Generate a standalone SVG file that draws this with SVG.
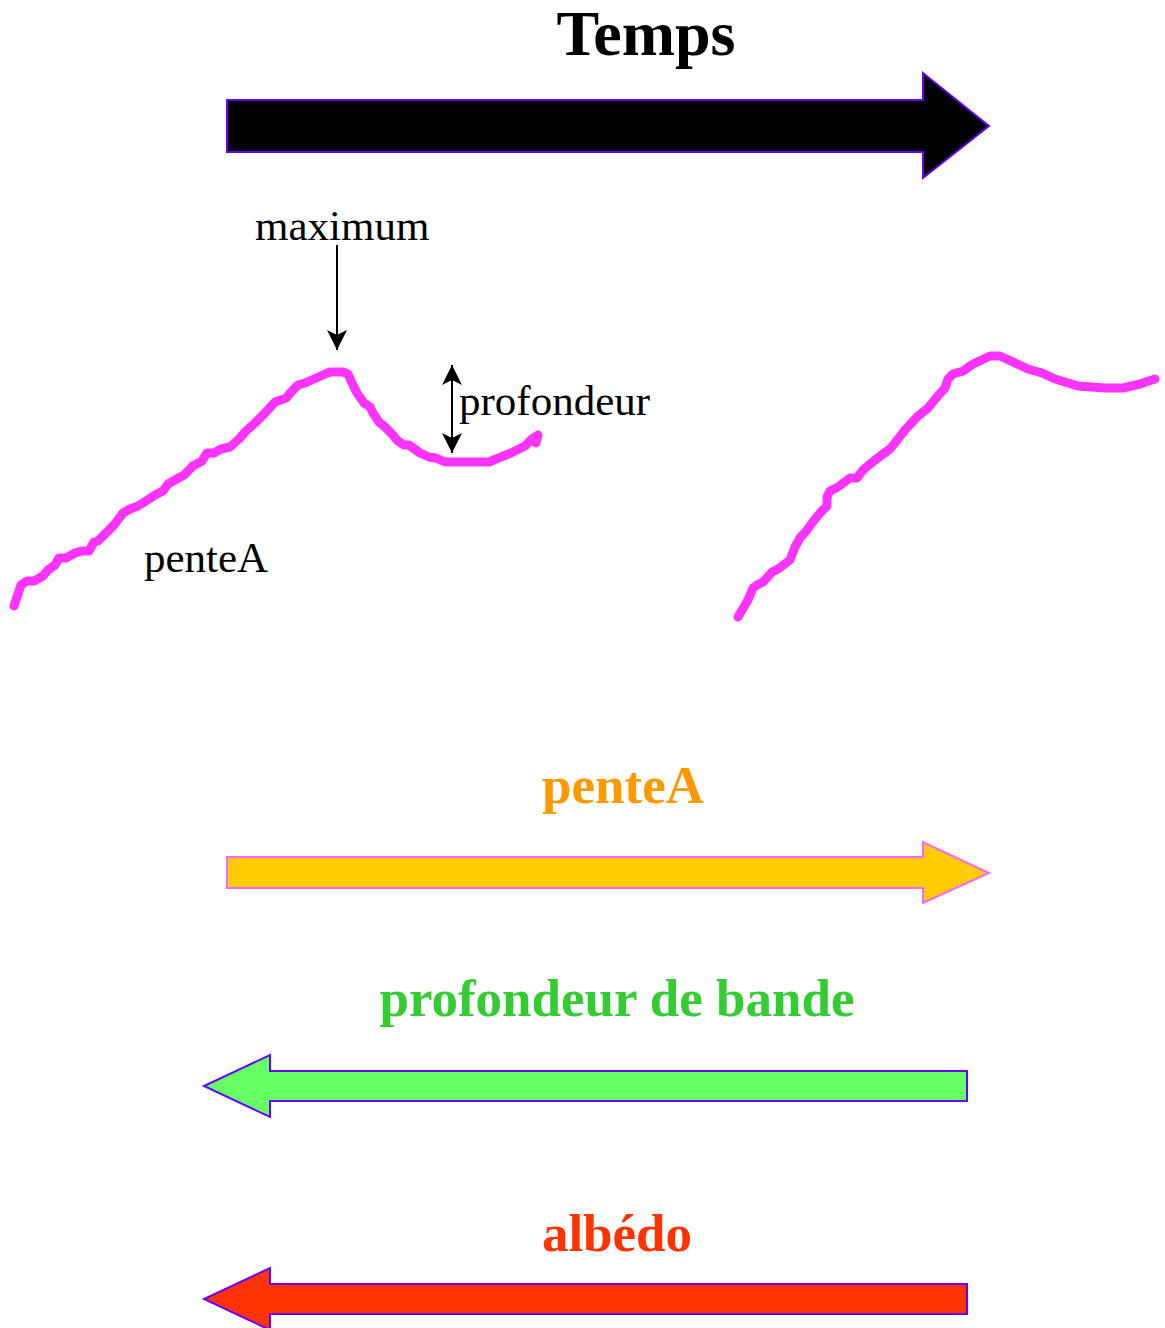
<svg xmlns="http://www.w3.org/2000/svg" width="1165" height="1328" viewBox="0 0 1165 1328">
<style>
.serif{font-family:"Liberation Serif","Times New Roman",serif}
.lbl{font-size:43px;fill:#000}
.big{font-weight:bold;font-size:53px;text-anchor:middle}
.curve{fill:none;stroke:#ff33ff;stroke-width:9;stroke-linecap:round;stroke-linejoin:round}
.ptr{stroke:#000;stroke-width:2;fill:none}
</style>
<defs>
<marker id="head" viewBox="0 0 20 20" refX="20" refY="10" markerWidth="20" markerHeight="20" markerUnits="userSpaceOnUse" orient="auto-start-reverse">
<path d="M0,0 L20,10 L0,20 L5,10 Z" fill="#000"/>
</marker>
</defs>
<rect width="1165" height="1328" fill="#fff"/>

<g id="temps">
<text class="serif" x="646" y="55" font-size="64" font-weight="bold" text-anchor="middle">Temps</text>
<polygon points="227,100 923,100 923,73 989,126 923,178 923,152 227,152" fill="#000" stroke="#6600ff" stroke-width="2"/>
</g>

<g id="curve1">
<polyline class="curve" points="14,606 21,585 27,581 34,581 43,576 48,570 55,565 59,558 66,558 75,553 82,551 89,551 94,542 98,541 107,532 114,525 123,513 130,509 138,506 146,501 155,495 163,491 168,484 175,480 184,475 193,466 202,461 207,453 214,453 221,449 230,447 239,439 246,431 255,423 266,412 275,402 286,398 293,390 298,385 305,383 314,379 323,375 330,372 343,372 348,374 352,383 357,393 364,403 370,407 373,413 379,422 385,427 391,433 398,441 404,445 409,445 420,453 429,457 436,458 445,462 489,462 496,459 511,453 525,446 532,439 538,435 536,443"/>
</g>

<g id="curve2">
<polyline class="curve" points="738,617 748,600 753,588 757,585 763,582 772,572 778,569 790,560 795,547 800,538 807,530 812,523 820,513 827,506 827,497 830,491 838,487 850,478 857,478 863,470 875,460 890,449 898,439 905,430 917,417 928,408 937,397 945,388 948,379 953,374 963,371 973,364 990,356 1000,356 1013,362 1028,369 1042,373 1055,379 1078,386 1105,388 1123,388 1140,384 1155,379"/>
</g>

<g id="maximum">
<text class="serif lbl" x="255" y="240">maximum</text>
</g>
<g id="profondeur">
<text class="serif lbl" x="459" y="415">profondeur</text>
</g>
<g id="penteA-label">
<text class="serif lbl" x="144" y="572">penteA</text>
</g>

<g id="connectors">
<line class="ptr" x1="337" y1="245" x2="337" y2="350" marker-end="url(#head)"/>
<line class="ptr" x1="452" y1="365" x2="452" y2="453" marker-start="url(#head)" marker-end="url(#head)"/>
</g>

<g id="penteA-arrow">
<text class="serif big" x="623" y="803" fill="#ff9900">penteA</text>
<polygon points="227,857 923,857 923,842 989,873 923,903 923,888 227,888" fill="#ffcc00" stroke="#ff66ff" stroke-width="2"/>
</g>

<g id="profondeur-arrow">
<text class="serif big" x="617" y="1016" fill="#33cc33">profondeur de bande</text>
<polygon points="967,1071 270,1071 270,1055 204,1086 270,1117 270,1101 967,1101" fill="#66ff66" stroke="#6600ff" stroke-width="2"/>
</g>

<g id="albedo-arrow">
<text class="serif big" x="617" y="1251" fill="#ff3300">albédo</text>
<polygon points="967,1284 270,1284 270,1268 204,1299 270,1330 270,1314 967,1314" fill="#ff3300" stroke="#6600ff" stroke-width="2"/>
</g>
</svg>
